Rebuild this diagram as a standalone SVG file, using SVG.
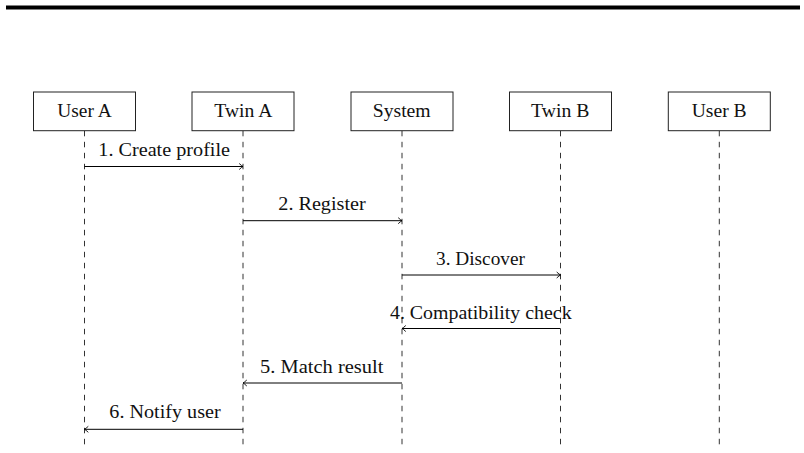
<svg xmlns="http://www.w3.org/2000/svg" width="804" height="453" viewBox="0 0 804 453">
<style>
.box{fill:#fff;stroke:#222;stroke-width:1}
.life{stroke:#333;stroke-width:1;stroke-dasharray:5.5 5.5;fill:none}
.msg{stroke:#000;stroke-width:1;fill:none}
text{font-family:"Liberation Serif","DejaVu Serif",serif;font-size:19px;fill:#111;text-anchor:middle}
</style>
<defs>
<marker id="ah" viewBox="-5 -4 6 8" markerWidth="6" markerHeight="8" refX="0" refY="0" orient="auto" markerUnits="userSpaceOnUse">
<path d="M -3.8 -3 Q -1.2 -0.6 0 0 Q -1.2 0.6 -3.8 3" fill="none" stroke="#000" stroke-width="0.9"/>
</marker>
</defs>
<rect x="6" y="5.5" width="794" height="4" fill="#000"/>
<g id="lifelines">
<line class="life" x1="84.5" y1="130.8" x2="84.5" y2="448"/>
<line class="life" x1="243" y1="130.8" x2="243" y2="448"/>
<line class="life" x1="402" y1="130.8" x2="402" y2="448"/>
<line class="life" x1="560.5" y1="130.8" x2="560.5" y2="448"/>
<line class="life" x1="719.3" y1="130.8" x2="719.3" y2="448"/>
</g>
<g id="userA"><rect class="box" x="33.5" y="92" width="102" height="38.7"/><text x="84.5" y="117.3" textLength="54.4" lengthAdjust="spacingAndGlyphs">User A</text></g>
<g id="twinA"><rect class="box" x="192" y="92" width="102" height="38.7"/><text x="243.3" y="117.3" textLength="58" lengthAdjust="spacingAndGlyphs">Twin A</text></g>
<g id="system"><rect class="box" x="351" y="92" width="102" height="38.7"/><text x="401.7" y="117.3" textLength="58" lengthAdjust="spacingAndGlyphs">System</text></g>
<g id="twinB"><rect class="box" x="509.5" y="92" width="102" height="38.7"/><text x="560.2" y="117.3" textLength="58.3" lengthAdjust="spacingAndGlyphs">Twin B</text></g>
<g id="userB"><rect class="box" x="668.3" y="92" width="102" height="38.7"/><text x="719.2" y="117.3" textLength="55" lengthAdjust="spacingAndGlyphs">User B</text></g>
<g id="connectors">
<line class="msg" x1="84.5" y1="166.5" x2="243" y2="166.5" marker-end="url(#ah)"/>
<line class="msg" x1="243" y1="220.7" x2="402" y2="220.7" marker-end="url(#ah)"/>
<line class="msg" x1="402" y1="275" x2="560.5" y2="275" marker-end="url(#ah)"/>
<line class="msg" x1="560.5" y1="328.5" x2="402" y2="328.5" marker-end="url(#ah)"/>
<line class="msg" x1="402" y1="383" x2="243" y2="383" marker-end="url(#ah)"/>
<line class="msg" x1="243" y1="429.3" x2="84.5" y2="429.3" marker-end="url(#ah)"/>
<text x="164.2" y="155.7" textLength="131.7" lengthAdjust="spacingAndGlyphs">1. Create profile</text>
<text x="322" y="210" textLength="87.4" lengthAdjust="spacingAndGlyphs">2. Register</text>
<text x="480.5" y="264.5" textLength="89" lengthAdjust="spacingAndGlyphs">3. Discover</text>
<text x="480.8" y="319" textLength="181.7" lengthAdjust="spacingAndGlyphs">4. Compatibility check</text>
<text x="321.7" y="373" textLength="123.3" lengthAdjust="spacingAndGlyphs">5. Match result</text>
<text x="165" y="418.3" textLength="111.3" lengthAdjust="spacingAndGlyphs">6. Notify user</text>
</g>
</svg>
